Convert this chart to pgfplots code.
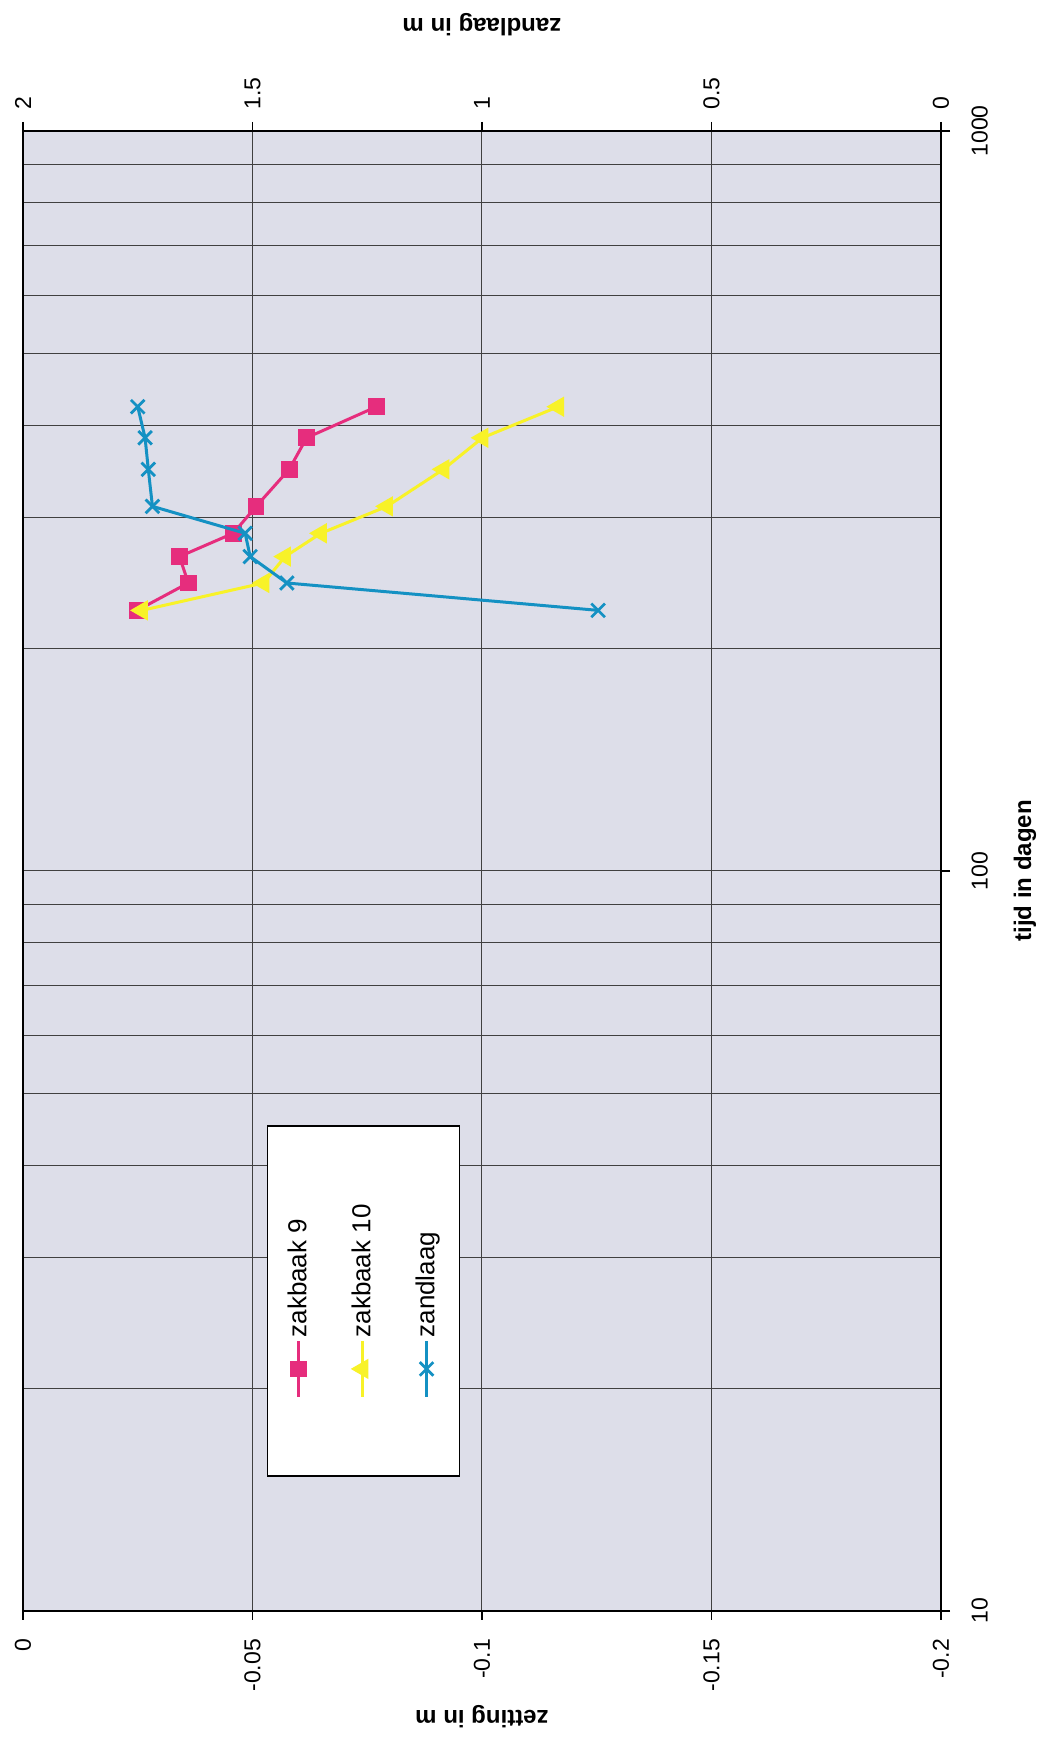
\documentclass[border=0pt]{standalone}
\usepackage{fontspec}
\setmainfont{Liberation Sans}
\usepackage{pgfplots}
\pgfplotsset{compat=1.18}

\definecolor{plotbg}{RGB}{221,222,233}
\definecolor{roze}{RGB}{230,45,125}
\definecolor{geel}{RGB}{248,242,40}
\definecolor{blauw}{RGB}{20,145,195}

\newcommand{\tickfont}{\fontsize{11.5}{13}\selectfont}
\newcommand{\labelfont}{\fontsize{12}{14}\selectfont\bfseries}

\pgfplotsset{
  zb9/.style={color=roze, line width=1.5pt, mark=square*, mark size=3.4pt,
    mark options={solid, fill=roze}},
  zb10/.style={color=geel, line width=1.5pt, mark=triangle*, mark size=4.4pt,
    mark options={solid, fill=geel, rotate=90}},
  zl/.style={color=blauw, line width=1.5pt, mark=x, mark size=4.8pt,
    mark options={solid, line width=1.4pt}},
}

% legend entry turned upright like the rest of the chart: line below, text above
\newcommand{\vlegend}[1]{%
  \path[draw=none, fill=none] (-15.5pt,-39.5pt) rectangle (15.5pt,135.5pt);
  \draw[mark repeat=2, mark phase=2]
    plot coordinates {(0pt,0pt) (0pt,14pt) (0pt,28pt)};
  \node[rotate=90, anchor=west, inner sep=1pt, text=black, draw=none,
    font=\fontsize{13}{15}\selectfont] at (0pt,28pt) {#1};}

\begin{document}
\begin{tikzpicture}
\begin{axis}[
  scale only axis, width=459pt, height=740pt,
  xmin=-0.2, xmax=0, x dir=reverse,
  ymode=log, ymin=10, ymax=1000,
  xtick={0,-0.05,-0.1,-0.15,-0.2},
  xticklabels={0,-0.05,-0.1,-0.15,-0.2},
  ytick={10,100,1000}, yticklabels={10,100,1000},
  minor ytick={20,30,40,50,60,70,80,90,200,300,400,500,600,700,800,900},
  xmajorgrids, ymajorgrids, yminorgrids,
  grid style={line width=0.5pt, draw=black!75},
  minor grid style={line width=0.5pt, draw=black!75},
  tick align=outside, major tick length=4.5pt, minor tick length=0pt,
  xtick pos=left, ytick pos=right, yticklabel pos=right,
  tick style={black, line width=0.6pt},
  axis line style={line width=0.8pt},
  axis background/.style={fill=plotbg},
  xticklabel style={font=\tickfont, yshift=-6pt, rotate=90, anchor=east},
  yticklabel style={font=\tickfont, xshift=7.2pt, rotate=90, anchor=north},
  every axis x label/.style={at={(axis description cs:0.5,0)}, anchor=center,
    yshift=-53pt, rotate=180, font=\labelfont},
  every axis y label/.style={at={(axis description cs:1,0.5)}, anchor=center,
    xshift=42pt, rotate=90, font=\labelfont},
  xlabel={zetting in m}, ylabel={tijd in dagen},
]
\addplot[zb9] coordinates {
  (-0.0249,225) (-0.0360,245) (-0.0341,266) (-0.0458,286)
  (-0.0508,311) (-0.0580,349) (-0.0618,385) (-0.0770,424)};
\addplot[zb10] coordinates {
  (-0.0259,225) (-0.0524,245) (-0.0571,266) (-0.0649,286)
  (-0.0793,311) (-0.0916,349) (-0.1001,385) (-0.1166,424)};
\end{axis}

\begin{axis}[
  scale only axis, width=459pt, height=740pt,
  xmin=0, xmax=2, x dir=reverse,
  ymode=log, ymin=10, ymax=1000,
  axis x line*=top, axis y line=none,
  xtick={0,0.5,1,1.5,2}, xticklabels={0,0.5,1,1.5,2},
  tick align=outside, major tick length=4.5pt,
  tick style={black, line width=0.6pt},
  axis line style={line width=0.8pt},
  xticklabel style={font=\tickfont, yshift=2.7pt, rotate=90, anchor=west},
  every axis x label/.style={at={(axis description cs:0.5,1)}, anchor=center,
    yshift=53pt, rotate=180, font=\labelfont},
  xlabel={zandlaag in m},
  legend columns=3,
  legend style={at={(0.371,0.2095)}, anchor=center,
    draw=black, line width=0.6pt, fill=white,
    inner sep=0pt, column sep=0pt, row sep=0pt, nodes={inner sep=0pt}},
]
\addlegendimage{zb9, legend image code/.code={\vlegend{zakbaak 9}}}
\addlegendentry{}
\addlegendimage{zb10, legend image code/.code={\vlegend{zakbaak 10}}}
\addlegendentry{}
\addlegendimage{zl, legend image code/.code={\vlegend{zandlaag}}}
\addlegendentry{}
\addplot[zl, forget plot] coordinates {
  (0.747,225) (1.425,245) (1.505,266) (1.516,286)
  (1.718,311) (1.727,349) (1.734,385) (1.750,424)};
\end{axis}

\path ([shift={(-11.5pt,-64.5pt)}]current axis.south west)
  rectangle ([shift={(53.5pt,65.5pt)}]current axis.north east);
\end{tikzpicture}
\end{document}
